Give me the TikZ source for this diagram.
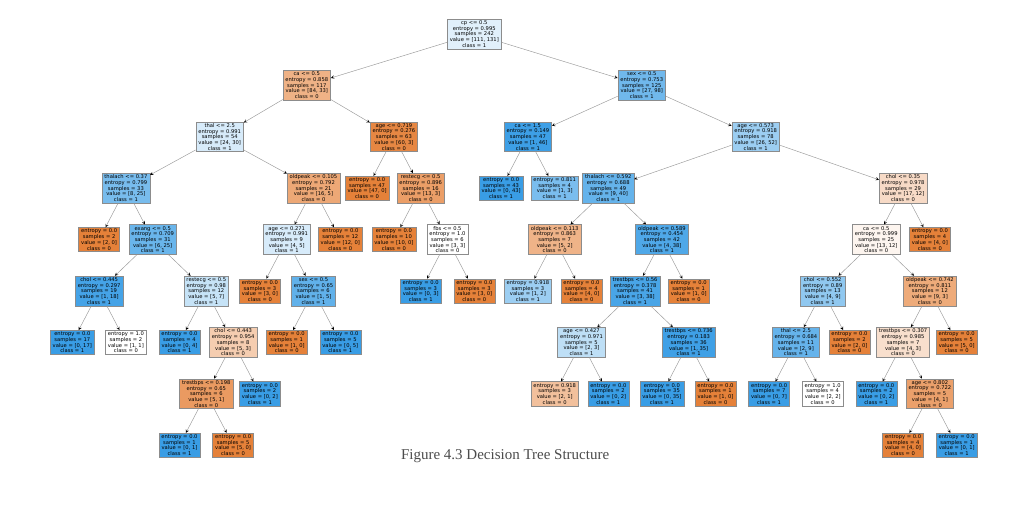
\documentclass[tikz,border=0pt]{standalone}
\usepackage{fontspec}
\setsansfont{DejaVu Sans}
\newfontfamily\capfont{Liberation Serif}
\definecolor{orng}{HTML}{E58139}
\definecolor{blu}{HTML}{399DE5}
\tikzset{
  box/.style={draw=black!45,line width=0.5pt,rectangle,align=center,inner xsep=2.5pt,inner ysep=1.5pt,
    font=\sffamily\fontsize{5.2}{5.7}\selectfont},
  cls0/.style={box,fill=orng!#1},
  cls1/.style={box,fill=blu!#1},
  edge/.style={->,>=stealth,draw=black!40,line width=0.45pt}
}
\begin{document}
\begin{tikzpicture}[x=26.8pt,y=-51.4pt]
    \fill[white] (-1.698,-0.661) rectangle (35.99,9.455);
    \useasboundingbox (-1.698,-0.661) rectangle (35.99,9.455);
    % level 0
    \node[cls1=15] (n) at (16,0) {cp <= 0.5\\entropy = 0.995\\samples = 242\\value = [111, 131]\\class = 1};
    % level 1
    \node[cls0=61] (n0) at (9.75,1) {ca <= 0.5\\entropy = 0.858\\samples = 117\\value = [84, 33]\\class = 0};
    \node[cls1=72] (n1) at (22.25,1) {sex <= 0.5\\entropy = 0.753\\samples = 125\\value = [27, 98]\\class = 1};
    % level 2
    \node[cls1=20] (n00) at (6.5,2) {thal <= 2.5\\entropy = 0.991\\samples = 54\\value = [24, 30]\\class = 1};
    \node[cls0=95] (n01) at (13,2) {age <= 0.719\\entropy = 0.276\\samples = 63\\value = [60, 3]\\class = 0};
    \node[cls1=98] (n10) at (18,2) {ca <= 1.5\\entropy = 0.149\\samples = 47\\value = [1, 46]\\class = 1};
    \node[cls1=50] (n11) at (26.5,2) {age <= 0.573\\entropy = 0.918\\samples = 78\\value = [26, 52]\\class = 1};
    % level 3
    \node[cls1=68] (n000) at (3,3) {thalach <= 0.37\\entropy = 0.799\\samples = 33\\value = [8, 25]\\class = 1};
    \node[cls0=69] (n001) at (10,3) {oldpeak <= 0.105\\entropy = 0.792\\samples = 21\\value = [16, 5]\\class = 0};
    \node[cls0=100] (n010) at (12,3) {entropy = 0.0\\samples = 47\\value = [47, 0]\\class = 0};
    \node[cls0=77] (n011) at (14,3) {restecg <= 0.5\\entropy = 0.896\\samples = 16\\value = [13, 3]\\class = 0};
    \node[cls1=100] (n100) at (17,3) {entropy = 0.0\\samples = 43\\value = [0, 43]\\class = 1};
    \node[cls1=67] (n101) at (19,3) {entropy = 0.811\\samples = 4\\value = [1, 3]\\class = 1};
    \node[cls1=78] (n110) at (21,3) {thalach <= 0.592\\entropy = 0.688\\samples = 49\\value = [9, 40]\\class = 1};
    \node[cls0=29] (n111) at (32,3) {chol <= 0.35\\entropy = 0.978\\samples = 29\\value = [17, 12]\\class = 0};
    % level 4
    \node[cls0=100] (n0000) at (2,4) {entropy = 0.0\\samples = 2\\value = [2, 0]\\class = 0};
    \node[cls1=76] (n0001) at (4,4) {exang <= 0.5\\entropy = 0.709\\samples = 31\\value = [6, 25]\\class = 1};
    \node[cls1=20] (n0010) at (9,4) {age <= 0.271\\entropy = 0.991\\samples = 9\\value = [4, 5]\\class = 1};
    \node[cls0=100] (n0011) at (11,4) {entropy = 0.0\\samples = 12\\value = [12, 0]\\class = 0};
    \node[cls0=100] (n0110) at (13,4) {entropy = 0.0\\samples = 10\\value = [10, 0]\\class = 0};
    \node[cls0=0] (n0111) at (15,4) {fbs <= 0.5\\entropy = 1.0\\samples = 6\\value = [3, 3]\\class = 0};
    \node[cls0=60] (n1100) at (19,4) {oldpeak <= 0.113\\entropy = 0.863\\samples = 7\\value = [5, 2]\\class = 0};
    \node[cls1=89] (n1101) at (23,4) {oldpeak <= 0.589\\entropy = 0.454\\samples = 42\\value = [4, 38]\\class = 1};
    \node[cls0=8] (n1110) at (31,4) {ca <= 0.5\\entropy = 0.999\\samples = 25\\value = [13, 12]\\class = 0};
    \node[cls0=100] (n1111) at (33,4) {entropy = 0.0\\samples = 4\\value = [4, 0]\\class = 0};
    % level 5
    \node[cls1=94] (n00010) at (2,5) {chol <= 0.445\\entropy = 0.297\\samples = 19\\value = [1, 18]\\class = 1};
    \node[cls1=29] (n00011) at (6,5) {restecg <= 0.5\\entropy = 0.98\\samples = 12\\value = [5, 7]\\class = 1};
    \node[cls0=100] (n00100) at (8,5) {entropy = 0.0\\samples = 3\\value = [3, 0]\\class = 0};
    \node[cls1=80] (n00101) at (10,5) {sex <= 0.5\\entropy = 0.65\\samples = 6\\value = [1, 5]\\class = 1};
    \node[cls1=100] (n01110) at (14,5) {entropy = 0.0\\samples = 3\\value = [0, 3]\\class = 1};
    \node[cls0=100] (n01111) at (16,5) {entropy = 0.0\\samples = 3\\value = [3, 0]\\class = 0};
    \node[cls1=50] (n11000) at (18,5) {entropy = 0.918\\samples = 3\\value = [1, 2]\\class = 1};
    \node[cls0=100] (n11001) at (20,5) {entropy = 0.0\\samples = 4\\value = [4, 0]\\class = 0};
    \node[cls1=92] (n11010) at (22,5) {trestbps <= 0.56\\entropy = 0.378\\samples = 41\\value = [3, 38]\\class = 1};
    \node[cls0=100] (n11011) at (24,5) {entropy = 0.0\\samples = 1\\value = [1, 0]\\class = 0};
    \node[cls1=56] (n11100) at (29,5) {chol <= 0.552\\entropy = 0.89\\samples = 13\\value = [4, 9]\\class = 1};
    \node[cls0=67] (n11101) at (33,5) {oldpeak <= 0.742\\entropy = 0.811\\samples = 12\\value = [9, 3]\\class = 0};
    % level 6
    \node[cls1=100] (n000100) at (1,6) {entropy = 0.0\\samples = 17\\value = [0, 17]\\class = 1};
    \node[cls0=0] (n000101) at (3,6) {entropy = 1.0\\samples = 2\\value = [1, 1]\\class = 0};
    \node[cls1=100] (n000110) at (5,6) {entropy = 0.0\\samples = 4\\value = [0, 4]\\class = 1};
    \node[cls0=40] (n000111) at (7,6) {chol <= 0.443\\entropy = 0.954\\samples = 8\\value = [5, 3]\\class = 0};
    \node[cls0=100] (n001010) at (9,6) {entropy = 0.0\\samples = 1\\value = [1, 0]\\class = 0};
    \node[cls1=100] (n001011) at (11,6) {entropy = 0.0\\samples = 5\\value = [0, 5]\\class = 1};
    \node[cls1=33] (n110100) at (20,6) {age <= 0.427\\entropy = 0.971\\samples = 5\\value = [2, 3]\\class = 1};
    \node[cls1=97] (n110101) at (24,6) {trestbps <= 0.736\\entropy = 0.183\\samples = 36\\value = [1, 35]\\class = 1};
    \node[cls1=78] (n111000) at (28,6) {thal <= 2.5\\entropy = 0.684\\samples = 11\\value = [2, 9]\\class = 1};
    \node[cls0=100] (n111001) at (30,6) {entropy = 0.0\\samples = 2\\value = [2, 0]\\class = 0};
    \node[cls0=25] (n111010) at (32,6) {trestbps <= 0.307\\entropy = 0.985\\samples = 7\\value = [4, 3]\\class = 0};
    \node[cls0=100] (n111011) at (34,6) {entropy = 0.0\\samples = 5\\value = [5, 0]\\class = 0};
    % level 7
    \node[cls0=80] (n0001110) at (6,7) {trestbps <= 0.198\\entropy = 0.65\\samples = 6\\value = [5, 1]\\class = 0};
    \node[cls1=100] (n0001111) at (8,7) {entropy = 0.0\\samples = 2\\value = [0, 2]\\class = 1};
    \node[cls0=50] (n1101000) at (19,7) {entropy = 0.918\\samples = 3\\value = [2, 1]\\class = 0};
    \node[cls1=100] (n1101001) at (21,7) {entropy = 0.0\\samples = 2\\value = [0, 2]\\class = 1};
    \node[cls1=100] (n1101010) at (23,7) {entropy = 0.0\\samples = 35\\value = [0, 35]\\class = 1};
    \node[cls0=100] (n1101011) at (25,7) {entropy = 0.0\\samples = 1\\value = [1, 0]\\class = 0};
    \node[cls1=100] (n1110000) at (27,7) {entropy = 0.0\\samples = 7\\value = [0, 7]\\class = 1};
    \node[cls0=0] (n1110001) at (29,7) {entropy = 1.0\\samples = 4\\value = [2, 2]\\class = 0};
    \node[cls1=100] (n1110100) at (31,7) {entropy = 0.0\\samples = 2\\value = [0, 2]\\class = 1};
    \node[cls0=75] (n1110101) at (33,7) {age <= 0.802\\entropy = 0.722\\samples = 5\\value = [4, 1]\\class = 0};
    % level 8
    \node[cls1=100] (n00011100) at (5,8) {entropy = 0.0\\samples = 1\\value = [0, 1]\\class = 1};
    \node[cls0=100] (n00011101) at (7,8) {entropy = 0.0\\samples = 5\\value = [5, 0]\\class = 0};
    \node[cls0=100] (n11101010) at (32,8) {entropy = 0.0\\samples = 4\\value = [4, 0]\\class = 0};
    \node[cls1=100] (n11101011) at (34,8) {entropy = 0.0\\samples = 1\\value = [0, 1]\\class = 1};
    % splits
    \draw[edge] (n) edge (n0) edge (n1);
    \draw[edge] (n0) edge (n00) edge (n01);
    \draw[edge] (n1) edge (n10) edge (n11);
    \draw[edge] (n00) edge (n000) edge (n001);
    \draw[edge] (n01) edge (n010) edge (n011);
    \draw[edge] (n10) edge (n100) edge (n101);
    \draw[edge] (n11) edge (n110) edge (n111);
    \draw[edge] (n000) edge (n0000) edge (n0001);
    \draw[edge] (n001) edge (n0010) edge (n0011);
    \draw[edge] (n011) edge (n0110) edge (n0111);
    \draw[edge] (n110) edge (n1100) edge (n1101);
    \draw[edge] (n111) edge (n1110) edge (n1111);
    \draw[edge] (n0001) edge (n00010) edge (n00011);
    \draw[edge] (n0010) edge (n00100) edge (n00101);
    \draw[edge] (n0111) edge (n01110) edge (n01111);
    \draw[edge] (n1100) edge (n11000) edge (n11001);
    \draw[edge] (n1101) edge (n11010) edge (n11011);
    \draw[edge] (n1110) edge (n11100) edge (n11101);
    \draw[edge] (n00010) edge (n000100) edge (n000101);
    \draw[edge] (n00011) edge (n000110) edge (n000111);
    \draw[edge] (n00101) edge (n001010) edge (n001011);
    \draw[edge] (n11010) edge (n110100) edge (n110101);
    \draw[edge] (n11100) edge (n111000) edge (n111001);
    \draw[edge] (n11101) edge (n111010) edge (n111011);
    \draw[edge] (n000111) edge (n0001110) edge (n0001111);
    \draw[edge] (n110100) edge (n1101000) edge (n1101001);
    \draw[edge] (n110101) edge (n1101010) edge (n1101011);
    \draw[edge] (n111000) edge (n1110000) edge (n1110001);
    \draw[edge] (n111010) edge (n1110100) edge (n1110101);
    \draw[edge] (n0001110) edge (n00011100) edge (n00011101);
    \draw[edge] (n1110101) edge (n11101010) edge (n11101011);
    % caption
    \node[font=\capfont\fontsize{15}{18}\selectfont,text=black!70] (cap) at (17.15,8.21) {Figure 4.3 Decision Tree Structure};
\end{tikzpicture}
\end{document}
